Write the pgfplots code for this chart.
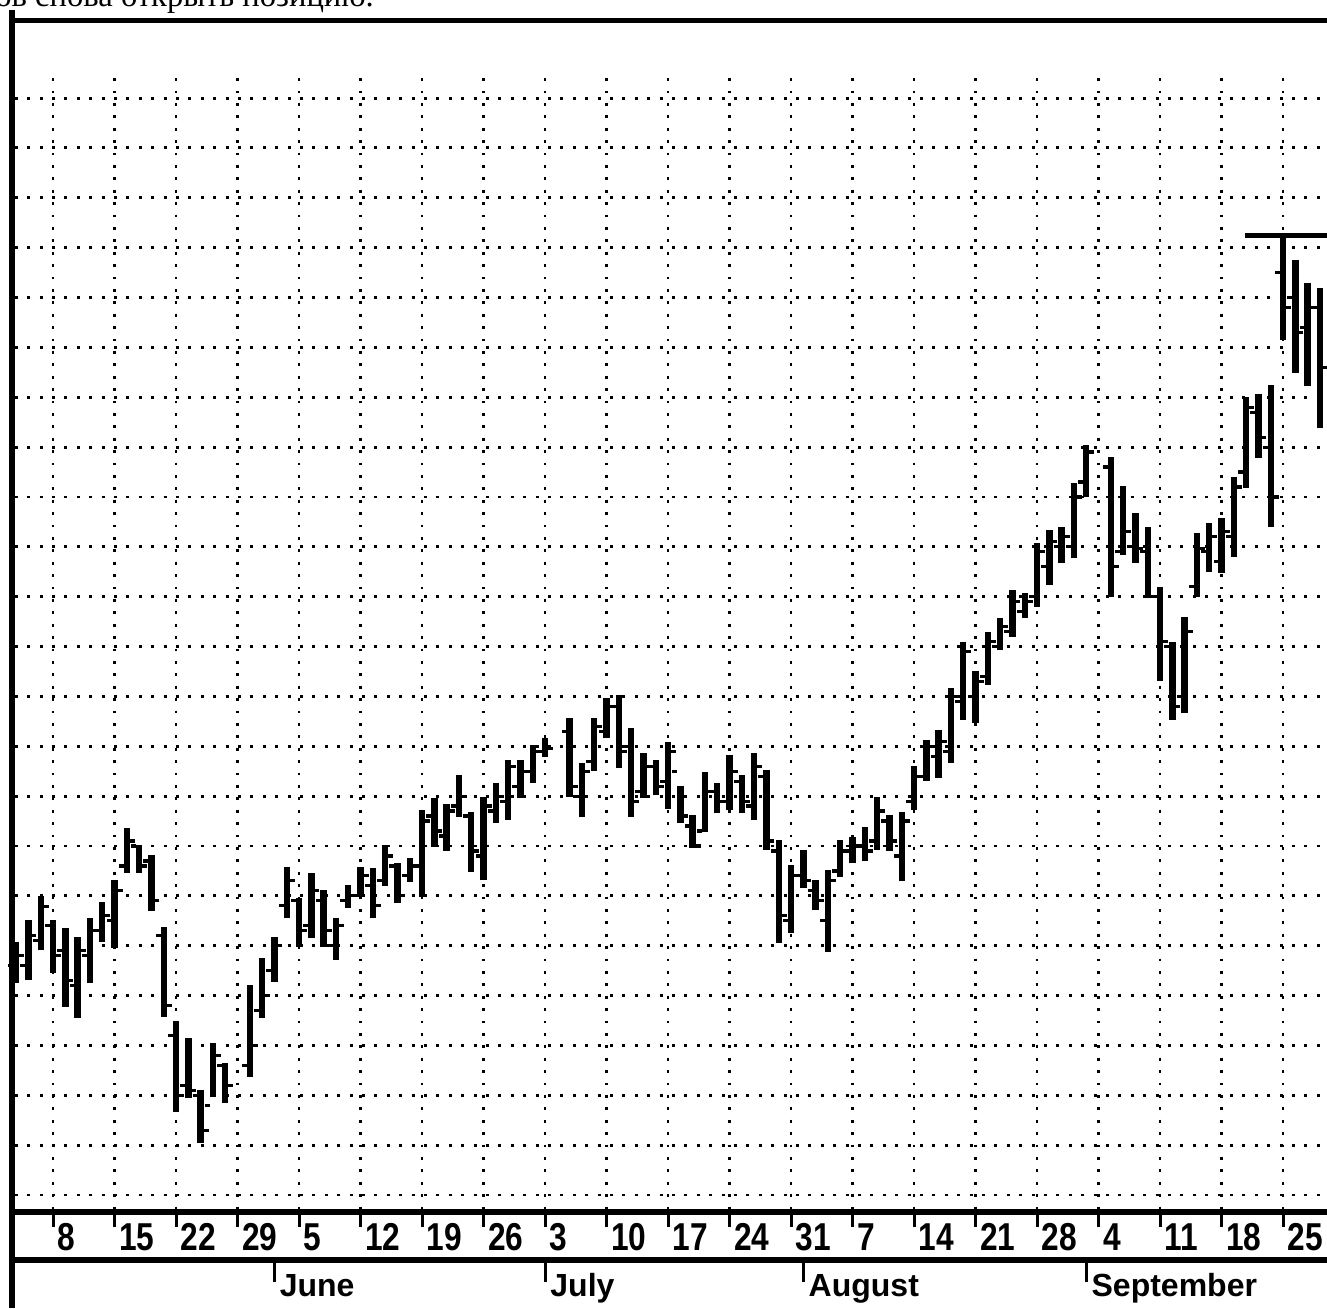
\documentclass[border=0pt]{standalone}
\usepackage{pgfplots}
\pgfplotsset{compat=1.18}
\usepackage{pgfplotstable}
\usepackage{fontspec}
\setmainfont{Liberation Sans}
\newfontfamily\serifru{Liberation Serif}

\pgfplotstableread{
d hi lo op cl
-3 5.08 4.25 4.6 4.8
-2 5.52 4.31 4.6 5.2
-1 6.00 4.91 5.1 5.78
0 5.52 4.45 5.4 4.8
1 5.35 3.78 4.9 4.3
2 5.18 3.55 4.2 4.9
3 5.55 4.25 4.8 5.3
4 5.88 5.08 5.3 5.6
5 6.32 4.95 5.5 6.1
6 7.36 6.46 6.6 7.1
7 7.02 6.46 7.0 6.6
8 6.82 5.69 6.7 5.9
9 5.38 3.58 5.2 3.8
10 3.48 1.67 3.2 2.0
11 3.15 1.95 2.2 2.1
12 2.10 1.04 2.0 1.3
13 3.04 1.97 1.8 2.8
14 2.64 1.84 2.6 2.2
16 4.21 2.37 2.6 3.0
17 4.75 3.55 3.7 4.0
18 5.18 4.28 4.5 5.0
19 6.58 5.55 5.8 6.3
20 5.95 4.98 5.9 5.3
21 6.46 5.15 5.4 6.1
22 6.12 4.98 5.9 5.3
23 5.55 4.71 5.0 5.4
24 6.22 5.75 5.9 6.0
25 6.58 5.98 6.0 6.4
26 6.55 5.55 6.2 5.8
27 7.02 6.19 6.3 6.8
28 6.65 5.85 6.6 6.0
29 6.75 6.28 6.4 6.6
30 7.72 5.98 6.6 7.5
31 7.96 6.98 7.6 7.3
32 7.85 6.90 7.2 7.7
33 8.42 7.59 7.8 8.0
34 7.69 6.48 7.6 6.9
35 7.99 6.32 6.8 7.8
36 8.26 7.46 7.7 8.0
37 8.72 7.52 7.9 8.6
38 8.72 7.96 8.2 8.5
39 9.02 8.26 8.5 8.9
40 9.16 8.79 8.9 8.95
42 9.57 7.99 9.3 8.2
43 8.66 7.59 8.0 8.5
44 9.57 8.50 8.7 9.4
45 9.97 9.16 9.3 9.8
46 10.03 8.56 9.8 8.9
47 9.37 7.59 9.0 7.9
48 8.86 7.96 8.1 8.6
49 8.72 8.02 8.6 8.2
50 9.08 7.74 8.3 8.9
51 8.20 7.46 8.5 7.6
52 7.62 6.95 7.4 7.0
53 8.49 7.29 7.3 8.1
54 8.26 7.66 8.1 7.9
55 8.82 7.72 7.9 8.5
56 8.42 7.66 8.3 7.9
57 8.86 7.52 7.8 8.6
58 8.52 6.92 8.4 7.1
59 7.12 5.05 6.9 5.6
60 6.62 5.25 5.5 6.4
61 6.92 6.16 6.4 6.3
62 6.32 5.72 6.1 5.9
63 6.52 4.88 5.5 6.3
64 7.12 6.38 6.5 6.9
65 7.19 6.65 6.9 7.0
66 7.39 6.69 7.0 6.9
67 7.99 6.92 7.1 7.7
68 7.62 6.89 7.5 7.1
69 7.69 6.29 6.8 7.5
70 8.60 7.72 7.9 8.4
71 9.13 8.30 8.4 9.0
72 9.33 8.36 8.8 9.1
73 10.17 8.66 8.9 10.0
74 11.10 9.53 9.9 10.9
75 10.50 9.47 10.0 10.3
76 11.30 10.23 10.4 11.1
77 11.57 10.93 11.0 11.4
78 12.13 11.20 11.3 11.9
79 12.07 11.57 11.7 11.9
80 13.07 11.80 12.0 12.9
81 13.34 12.23 12.6 13.1
82 13.40 12.67 13.0 13.2
83 14.27 12.77 13.0 14.0
84 15.04 14.00 14.3 14.9
86 14.81 12.00 14.6 12.6
87 14.21 12.84 12.9 13.3
88 13.67 12.67 13.0 12.97
89 13.40 11.97 12.9 12.0
90 12.20 10.30 12.0 11.1
91 11.10 9.53 11.0 9.8
92 11.60 9.67 10.0 11.3
93 13.27 12.00 12.2 12.97
94 13.47 12.50 12.9 13.2
95 13.58 12.47 12.7 13.3
96 14.41 12.80 13.2 14.2
97 16.00 14.18 14.5 15.8
98 16.07 14.78 15.7 15.2
99 16.24 13.40 15.0 14.0
100 19.22 17.15 18.5 17.8
101 18.75 16.49 18.0 17.3
102 18.29 16.22 17.4 17.8
103 18.19 15.38 17.8 16.6
}\bars

\tikzset{
  griddot/.style={black, line width=1.45pt, dash pattern=on 1.45pt off 4.75pt},
  dlab/.style={anchor=base west, inner sep=0pt, xshift=2.2pt, yshift=-19pt, font=\fontsize{18}{20}\selectfont\bfseries, xscale=0.88, yscale=1.08},
  mlab/.style={anchor=base west, inner sep=0pt, xshift=2.5pt, yshift=-42pt, font=\fontsize{16}{18}\selectfont\bfseries},
}

\begin{document}
\begin{tikzpicture}
\path[use as bounding box, clip] (0,0) rectangle (663.5pt,654pt);
\node[anchor=base west, inner sep=0pt, font=\serifru\fontsize{16.3}{18}\selectfont] at (-2.5pt,650.5pt) {ов снова открыть позицию.};
\begin{axis}[
  at={(6pt,48pt)}, anchor=south west,
  scale only axis, width=657.5pt, height=596pt,
  xmin=-3.3333, xmax=103.577, ymin=-0.341, ymax=23.566,
  axis lines=none, clip=false,
]
\pgfplotsinvokeforeach{0,...,22}{\draw[griddot] (axis cs:-3.1,#1) -- (axis cs:103.577,#1);}
\pgfplotsinvokeforeach{0,5,...,100}{\draw[griddot] (axis cs:#1,22.4) -- (axis cs:#1,-0.341);}

\addplot[draw=none, mark=none, forget plot,
  error bars/.cd, y dir=plus, y explicit, error mark=none,
  error bar style={draw=black, line width=3.2pt, solid}]
  table[x=d, y=lo, y error expr=\thisrow{hi}-\thisrow{lo}] {\bars};
\addplot[black, only marks, mark=-, mark size=1.2pt,
  mark options={line width=1.6pt, xshift=-2.8pt, solid}]
  table[x=d, y=op] {\bars};
\addplot[black, only marks, mark=-, mark size=1.2pt,
  mark options={line width=1.6pt, xshift=2.8pt, solid}]
  table[x=d, y=cl] {\bars};
\addplot[black, line width=2.6pt] coordinates {(96.9,19.25) (103.577,19.25)};

\pgfplotsinvokeforeach{0,5,...,100}{\draw[line width=1.5pt] (axis cs:#1,-0.341) -- (axis cs:#1,-0.642);}
\node[dlab] at (axis cs:0,-0.341) {8};
\node[dlab] at (axis cs:5,-0.341) {15};
\node[dlab] at (axis cs:10,-0.341) {22};
\node[dlab] at (axis cs:15,-0.341) {29};
\node[dlab] at (axis cs:20,-0.341) {5};
\node[dlab] at (axis cs:25,-0.341) {12};
\node[dlab] at (axis cs:30,-0.341) {19};
\node[dlab] at (axis cs:35,-0.341) {26};
\node[dlab] at (axis cs:40,-0.341) {3};
\node[dlab] at (axis cs:45,-0.341) {10};
\node[dlab] at (axis cs:50,-0.341) {17};
\node[dlab] at (axis cs:55,-0.341) {24};
\node[dlab] at (axis cs:60,-0.341) {31};
\node[dlab] at (axis cs:65,-0.341) {7};
\node[dlab] at (axis cs:70,-0.341) {14};
\node[dlab] at (axis cs:75,-0.341) {21};
\node[dlab] at (axis cs:80,-0.341) {28};
\node[dlab] at (axis cs:85,-0.341) {4};
\node[dlab] at (axis cs:90,-0.341) {11};
\node[dlab] at (axis cs:95,-0.341) {18};
\node[dlab] at (axis cs:100,-0.341) {25};

\pgfplotsinvokeforeach{18,40,61,84}{\draw[line width=1.5pt] (axis cs:#1,-1.3036) -- (axis cs:#1,-1.745);}
\node[mlab] at (axis cs:18,-0.341) {June};
\node[mlab] at (axis cs:40,-0.341) {July};
\node[mlab] at (axis cs:61,-0.341) {August};
\node[mlab] at (axis cs:84,-0.341) {September};
\end{axis}
\draw[line width=2.6pt] (6pt,0pt) -- (6pt,649pt);
\draw[line width=2.4pt] (4.7pt,643.75pt) -- (663.5pt,643.75pt);
\draw[line width=2.6pt] (6pt,48pt) -- (663.5pt,48pt);
\draw[line width=2.6pt] (6pt,24pt) -- (663.5pt,24pt);
\end{tikzpicture}
\end{document}
